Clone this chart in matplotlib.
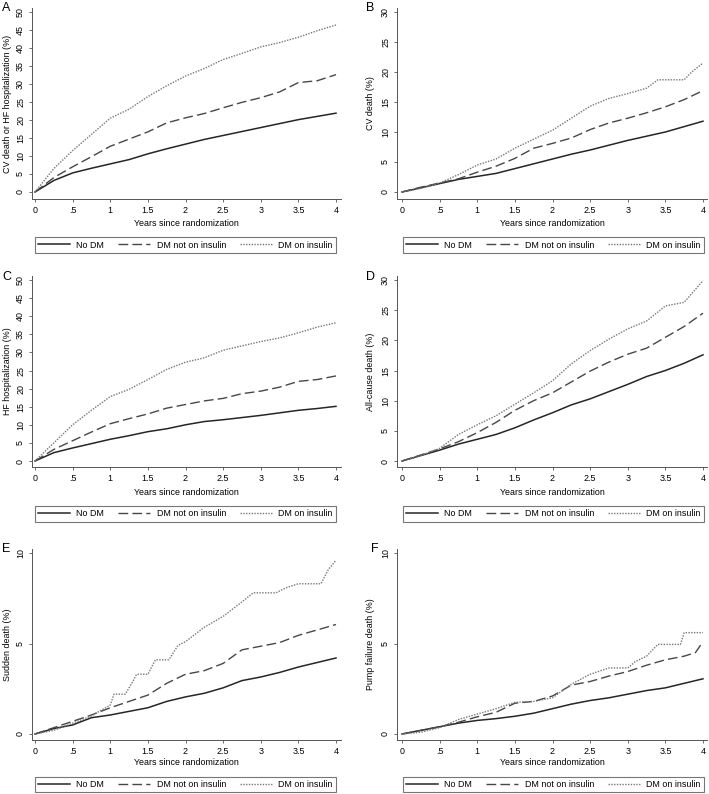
import matplotlib
matplotlib.use("Agg")
import matplotlib.pyplot as plt

plt.rcParams['font.family'] = ['Liberation Sans', 'DejaVu Sans']

# années depuis la randomisation
t = [0, 0.25, 0.5, 0.75, 1, 1.25, 1.5, 1.75, 2, 2.25, 2.5, 2.75, 3, 3.25, 3.5, 3.75, 4]

# A : décès CV ou hospitalisation IC (%)
a_nodm = [0, 3.2, 5.3, 6.6, 7.8, 9.0, 10.6, 12.0, 13.3, 14.6, 15.7, 16.8, 17.9, 19.0, 20.1, 21.0, 21.9]
a_dmni = [0, 4.0, 7.0, 9.8, 12.7, 14.7, 16.7, 19.2, 20.6, 21.8, 23.4, 24.9, 26.2, 27.8, 30.4, 30.9, 32.6]
a_dmi = [0, 6.5, 11.5, 16.0, 20.5, 23.0, 26.5, 29.5, 32.2, 34.3, 36.8, 38.5, 40.3, 41.5, 43.0, 44.8, 46.4]

# B : décès CV (%)
b_nodm = [0, 0.7, 1.4, 2.1, 2.6, 3.1, 3.9, 4.7, 5.5, 6.3, 7.0, 7.8, 8.6, 9.3, 10.0, 10.9, 11.8]
b_dmni = [0, 0.8, 1.5, 2.2, 3.3, 4.3, 5.6, 7.3, 8.1, 9.0, 10.4, 11.5, 12.3, 13.2, 14.2, 15.4, 16.9]
b_dmi_t = [0, 0.25, 0.5, 0.75, 1, 1.25, 1.5, 1.75, 2, 2.25, 2.5, 2.75, 3, 3.25, 3.4, 3.75, 3.85, 4]
b_dmi = [0, 0.6, 1.5, 2.9, 4.5, 5.5, 7.3, 8.8, 10.3, 12.3, 14.3, 15.6, 16.4, 17.3, 18.7, 18.7, 20.0, 21.5]

# C : hospitalisation IC (%)
c_nodm = [0, 2.3, 3.6, 4.8, 6.0, 7.0, 8.1, 8.9, 10.0, 10.9, 11.4, 12.0, 12.6, 13.3, 14.0, 14.5, 15.1]
c_dmni = [0, 3.2, 5.6, 8.0, 10.3, 11.7, 13.0, 14.6, 15.6, 16.6, 17.3, 18.6, 19.3, 20.4, 22.0, 22.5, 23.5]
c_dmi = [0, 5.0, 10.0, 14.0, 17.8, 19.8, 22.5, 25.3, 27.3, 28.5, 30.6, 31.8, 33.0, 34.0, 35.4, 37.0, 38.2]

# D : décès toutes causes (%)
d_nodm = [0, 0.9, 1.8, 2.8, 3.6, 4.4, 5.5, 6.8, 8.0, 9.3, 10.3, 11.5, 12.7, 14.0, 15.0, 16.2, 17.6]
d_dmni = [0, 1.0, 2.0, 3.2, 4.7, 6.4, 8.4, 10.0, 11.3, 13.1, 14.9, 16.4, 17.7, 18.7, 20.5, 22.3, 24.5]
d_dmi = [0, 0.9, 2.1, 4.4, 6.0, 7.5, 9.4, 11.3, 13.3, 16.1, 18.3, 20.2, 21.9, 23.2, 25.7, 26.3, 29.9]

# E : mort subite (%)
e_nodm = [0, 0.3, 0.5, 0.9, 1.05, 1.25, 1.45, 1.8, 2.05, 2.25, 2.55, 2.95, 3.15, 3.4, 3.7, 3.95, 4.2]
e_dmni = [0, 0.35, 0.7, 1.05, 1.45, 1.8, 2.15, 2.8, 3.3, 3.5, 3.9, 4.65, 4.85, 5.05, 5.45, 5.75, 6.05]
e_dmi_t = [0, 0.25, 0.5, 0.75, 1, 1.05, 1.2, 1.3, 1.35, 1.5, 1.6, 1.78, 1.9, 2, 2.25, 2.5, 2.75, 2.9, 3.2, 3.35, 3.5, 3.8, 3.9, 4]
e_dmi = [0, 0.2, 0.6, 1.0, 1.6, 2.2, 2.2, 2.9, 3.3, 3.3, 4.1, 4.1, 4.9, 5.1, 5.9, 6.5, 7.3, 7.8, 7.8, 8.1, 8.3, 8.3, 9.1, 9.6]

# F : décès par défaillance de pompe (%)
f_nodm = [0, 0.2, 0.4, 0.6, 0.75, 0.85, 0.98, 1.15, 1.4, 1.65, 1.85, 2.0, 2.2, 2.4, 2.55, 2.8, 3.05]
f_dmni_t = [0, 0.25, 0.5, 0.75, 1, 1.25, 1.5, 1.75, 2, 2.25, 2.5, 2.75, 3, 3.25, 3.5, 3.75, 3.9, 4]
f_dmni = [0, 0.2, 0.4, 0.65, 0.95, 1.2, 1.7, 1.8, 2.1, 2.7, 2.9, 3.2, 3.45, 3.8, 4.1, 4.3, 4.5, 5.1]
f_dmi_t = [0, 0.25, 0.5, 0.75, 1, 1.25, 1.5, 1.75, 2, 2.25, 2.5, 2.75, 3, 3.1, 3.25, 3.4, 3.7, 3.75, 4]
f_dmi = [0, 0.1, 0.35, 0.8, 1.1, 1.4, 1.75, 1.8, 2.0, 2.75, 3.3, 3.65, 3.65, 4.0, 4.3, 4.95, 4.95, 5.6, 5.6]

letters = ["A", "B", "C", "D", "E", "F"]
ylabels = ["CV death or HF hospitalization (%)", "CV death (%)", "HF hospitalization (%)",
           "All-cause death (%)", "Sudden death (%)", "Pump failure death (%)"]
ymaxs = [50, 30, 50, 30, 10, 10]
ysteps = [5, 5, 5, 5, 5, 5]
series = [
    [(t, a_nodm), (t, a_dmni), (t, a_dmi)],
    [(t, b_nodm), (t, b_dmni), (b_dmi_t, b_dmi)],
    [(t, c_nodm), (t, c_dmni), (t, c_dmi)],
    [(t, d_nodm), (t, d_dmni), (t, d_dmi)],
    [(t, e_nodm), (t, e_dmni), (e_dmi_t, e_dmi)],
    [(t, f_nodm), (f_dmni_t, f_dmni), (f_dmi_t, f_dmi)],
]
noms = ["No DM", "DM not on insulin", "DM on insulin"]
xticks = [0, 0.5, 1, 1.5, 2, 2.5, 3, 3.5, 4]
xticklabels = ["0", ".5", "1", "1.5", "2", "2.5", "3", "3.5", "4"]

W, H = 709, 794
fig = plt.figure(figsize=(W / 100, H / 100), dpi=100)
fs = 6.4

styles = [dict(color="#262626", ls="-", lw=1.1),
          dict(color="#474747", ls=(0, (7, 3)), lw=1.0),
          dict(color="#777777", ls=(0, (1, 1)), lw=1.0)]

# positions en pixels : colonnes et lignes
cols = [(32, 341, 35, 336), (397, 707, 402, 703)]
rows = [(8, 199, 192, 12), (276, 467, 461, 280), (549, 740, 734, 553)]
xlab_y = [219, 488, 758]          # haut du titre de l'axe x
leg_rows = [(237, 253), (506, 522), (777, 792)]
leg_cols = [(33, 338), (400, 707)]
letter_pos = [(2, 11), (366, 11), (2, 280), (366, 280), (2, 552), (371, 552)]
ylab_x = [12, 375]                # bord droit du titre de l'axe y

for i in range(6):
    r, c = i // 2, i % 2
    xl, xr, px0, px4 = cols[c]
    yt, yb, py0, pym = rows[r]
    ax = fig.add_axes([xl / W, 1 - yb / H, (xr - xl) / W, (yb - yt) / H])
    sx = (px4 - px0) / 4
    sy = (py0 - pym) / ymaxs[i]
    ax.set_xlim((xl - px0) / sx, (xr - px0) / sx)
    ax.set_ylim((py0 - yb) / sy, (py0 - yt) / sy)

    for (xs, ys), st in zip(series[i], styles):
        ax.plot(xs, ys, **st)

    ax.set_xticks(xticks)
    ax.set_xticklabels(xticklabels)
    yt_vals = list(range(0, ymaxs[i] + 1, ysteps[i]))
    ax.set_yticks(yt_vals)
    ax.set_yticklabels([str(v) for v in yt_vals], rotation=90, va="center")
    ax.tick_params(labelsize=fs, length=2.5, width=0.6, color="#555555", pad=2.5)
    for s in ["top", "right"]:
        ax.spines[s].set_visible(False)
    for s in ["left", "bottom"]:
        ax.spines[s].set_color("#555555")
        ax.spines[s].set_linewidth(0.7)
    ax.set_xlabel("Years since randomization", fontsize=fs)
    ax.xaxis.set_label_coords(0.5, -(xlab_y[r] - yb) / (yb - yt))
    ax.set_ylabel(ylabels[i], fontsize=fs)
    ax.yaxis.set_label_coords((ylab_x[c] - xl) / (xr - xl), 0.5)

    lx0, lx1 = leg_cols[c]
    ly0, ly1 = leg_rows[r]
    handles = ax.get_lines()
    leg = fig.legend(handles, noms, loc="center", ncol=3,
                     bbox_to_anchor=(lx0 / W, 1 - ly1 / H, (lx1 - lx0) / W, (ly1 - ly0) / H),
                     fontsize=fs, frameon=True, fancybox=False, handlelength=3.6,
                     handletextpad=0.7, borderpad=0.35, columnspacing=1.6, borderaxespad=0)
    leg.get_frame().set_edgecolor("#555555")
    leg.get_frame().set_linewidth(0.8)

    lx, ly = letter_pos[i]
    fig.text(lx / W, 1 - ly / H, letters[i], fontsize=9, ha="left", va="baseline")

fig.savefig("out.png", dpi=100)
